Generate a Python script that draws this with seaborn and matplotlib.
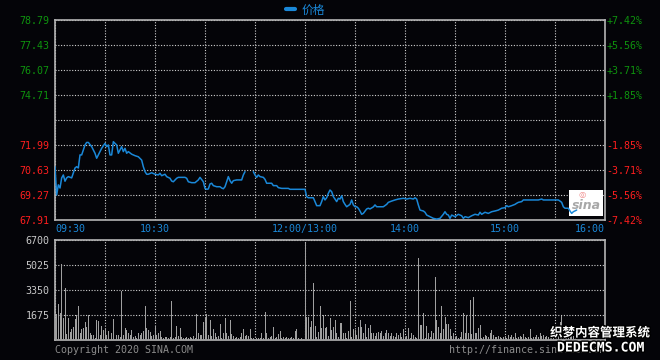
import matplotlib
matplotlib.use("Agg")
import matplotlib.pyplot as plt
import matplotlib.patheffects as pe
from matplotlib.lines import Line2D
from matplotlib.patches import Rectangle
from matplotlib.transforms import ScaledTranslation
import numpy as np
import pandas as pd
import seaborn as sns

# ---- data ----
prev_close = 73.35
price_ticks = [67.91, 69.27, 70.63, 71.99, 73.35, 74.71, 76.07, 77.43, 78.79]
pct_labels = ["-7.42%", "-5.56%", "-3.71%", "-1.85%", "",
              "+1.85%", "+3.71%", "+5.56%", "+7.42%"]
vol_ticks = [1675, 3350, 5025, 6700]
time_ticks = [0, 60, 150, 210, 270, 330]
time_labels = ["09:30", "10:30", "12:00/13:00", "14:00", "15:00", "16:00"]

# trading minutes since 09:30 (lunch removed), None marks a gap in the line
minutes = [0, 1, 2, 3, 4, 5, 6, 7, 8, 10, 11, 12, 13, 14, 15, 16, 17, 18, 19, 20,
           22, 24, 25, 26, 28, 30, 31, 32, 33, 34, 35, 37, 38, 39, 40, 41, 42, 43, 44, 46,
           48, 50, 52, 53, 54, 55, 56, 58, 60, 62, 63, 64, 66, 67, 69, 70, 71, 73, 74, 78,
           79, 80, 82, 84, 86, 87, 89, 90, 91, 92, 93, 94, 95, 97, 99, 100, 101, 102, 103, 104,
           105, 106, 107, 109, 112, 113, 114, 115, 119, 120, 121, 122, 123, 125, 126, 127, 130, 131, 133, 134,
           136, 140, 141, 150, 151, 152, 155, 156, 157, 159, 160, 161, 162, 163, 164, 165, 166, 167, 168, 169,
           170, 171, 172, 173, 174, 175, 177, 178, 179, 180, 181, 182, 183, 184, 185, 187, 188, 189, 191, 192,
           193, 195, 197, 199, 200, 202, 204, 206, 209, 211, 213, 215, 216, 217, 218, 219, 221, 222, 223, 225,
           227, 229, 231, 233, 234, 235, 236, 237, 238, 240, 242, 244, 245, 246, 248, 250, 252, 254, 255, 256,
           258, 260, 262, 264, 266, 268, 270, 271, 272, 274, 276, 277, 278, 280, 281, 290, 292, 293, 302, 303,
           304, 305, 306, 308, 309, 310, 311, 313]
prices = [70.81, 69.27, 69.82, 69.65, 70.20, 70.36, 70.02, 70.20, 70.27, 70.20, 70.47, 70.74, 70.81, 70.74, 71.45, 71.45, 71.72, 71.99, 72.13, 72.13,
          71.90, 71.54, 71.27, 71.45, 71.81, 72.08, 71.90, 71.99, 71.45, 71.45, 72.17, 71.99, 71.54, 71.72, 71.90, 71.63, 71.81, 71.54, 71.63, 71.49,
          71.41, 71.35, 71.17, 70.81, 70.54, 70.40, 70.40, 70.48, 70.40, 70.36, 70.45, 70.32, 70.40, 70.27, 70.18, 70.03, 69.99, 70.18, 70.23, 70.23,
          70.18, 69.99, 69.94, 69.94, 70.09, 70.23, 69.99, 69.63, 69.58, 69.60, 69.87, 69.91, 69.78, 69.72, 69.72, 69.65, 69.61, 69.72, 69.99, 70.27,
          70.05, 69.91, 70.05, 70.09, 70.09, 70.36, 70.54, None, 70.54, 70.36, 70.23, 70.36, 70.27, 70.23, 70.12, 69.91, 69.91, 69.78, 69.78, 69.67,
          69.63, 69.63, 69.58, 69.58, 69.18, 69.12, 69.12, 68.91, 68.69, 68.69, 68.91, 69.18, 69.00, 69.12, 69.36, 69.54, 69.45, 69.18, 69.05, 68.91,
          69.09, 69.05, 69.23, 68.91, 68.76, 68.63, 68.76, 69.00, 68.73, 68.63, 68.63, 68.55, 68.40, 68.22, 68.27, 68.51, 68.55, 68.51, 68.62, 68.73,
          68.63, 68.63, 68.63, 68.76, 68.87, 68.94, 69.00, 69.05, 69.09, 69.05, 69.09, 69.05, 69.12, 69.05, 68.73, 68.45, 68.40, 68.33, 68.18, 68.09,
          68.00, 67.96, 68.00, 68.22, 68.36, 68.22, 68.18, 68.00, 68.18, 68.09, 68.22, 68.14, 68.00, 68.09, 68.04, 68.14, 68.22, 68.18, 68.33, 68.22,
          68.33, 68.27, 68.36, 68.40, 68.45, 68.55, 68.58, 68.69, 68.63, 68.69, 68.76, 68.82, 68.87, 68.91, 69.00, 69.00, 69.05, 69.00, 69.00, 68.94,
          68.87, 68.63, 68.55, 68.55, 68.40, 68.27, 68.36, 68.45]

# volume per minute, minute 0 .. 313
volume = [1400, 1720, 2410, 1830, 5080, 1450, 3460, 400, 1450, 560,
          710, 850, 1380, 1670, 2270, 490, 710, 780, 1180, 850,
          1670, 450, 330, 330, 110, 1340, 1270, 330, 940, 670,
          740, 330, 600, 110, 450, 1400, 780, 330, 330, 180,
          3300, 330, 780, 670, 490, 330, 670, 180, 270, 110,
          450, 330, 450, 600, 2270, 780, 670, 560, 290, 330,
          940, 330, 450, 600, 180, 110, 180, 180, 110, 180,
          2610, 110, 180, 940, 270, 780, 180, 110, 110, 180,
          110, 180, 110, 270, 110, 1720, 450, 330, 330, 1230,
          1520, 1740, 330, 1340, 270, 710, 450, 180, 270, 1070,
          110, 450, 1450, 490, 270, 1340, 400, 270, 110, 180,
          110, 180, 490, 710, 270, 330, 270, 740, 110, 110,
          45, 110, 110, 110, 450, 110, 1850, 450, 110, 180,
          270, 850, 110, 180, 400, 600, 110, 180, 110, 180,
          110, 110, 180, 110, 600, 710, 110, 45, 110, 45,
          6500, 1560, 1520, 850, 1270, 3830, 940, 180, 560, 2270,
          780, 1670, 780, 850, 270, 1450, 670, 850, 1340, 450,
          180, 1110, 1110, 450, 450, 110, 620, 2610, 180, 710,
          670, 330, 850, 1340, 850, 450, 1070, 180, 780, 1000,
          450, 490, 270, 490, 560, 450, 600, 270, 450, 670,
          450, 270, 450, 270, 180, 490, 330, 450, 180, 710,
          110, 270, 780, 110, 450, 330, 180, 110, 5490, 1000,
          1000, 1830, 110, 940, 450, 220, 620, 450, 4240, 1340,
          890, 450, 2270, 710, 1520, 1070, 1070, 710, 270, 490,
          110, 270, 110, 220, 560, 1830, 490, 1670, 450, 2680,
          400, 2850, 450, 450, 780, 1000, 110, 180, 330, 270,
          180, 450, 670, 330, 180, 180, 270, 180, 110, 180,
          270, 110, 330, 180, 330, 180, 490, 110, 180, 270,
          180, 400, 180, 110, 180, 710, 110, 180, 180, 330,
          180, 450, 270, 330, 180, 270, 180, 330, 180, 270,
          560, 180, 270, 1230, 1600, 330, 560, 450, 330, 560,
          1000, 270, 450, 330]

# ---- style ----
BG = "#040408"
BLUE = "#1a88d8"
GREEN = "#0e930e"
RED = "#ff1e1e"
GRID = "#d0d0d0"
FRAME = "#b4b4b4"
MONO = "DejaVu Sans Mono"
CJK = ["Noto Sans CJK SC", "DejaVu Sans"]
FS = 7.2

sns.set_theme(style="dark", rc={"axes.facecolor": BG, "figure.facecolor": BG})
plt.rcParams["font.family"] = [MONO]

fig = plt.figure(figsize=(6.6, 3.6), dpi=100)
ax = fig.add_axes([55 / 660, 1 - 220 / 360, 550 / 660, 200 / 360])
axv = fig.add_axes([55 / 660, 1 - 340 / 360, 550 / 660, 100 / 360])

df = pd.DataFrame({"minute": minutes, "price": prices})
df["seg"] = df["price"].isna().cumsum()
df = df.dropna()
sns.lineplot(data=df, x="minute", y="price", units="seg", estimator=None,
             color=BLUE, lw=1.1, ax=ax, zorder=3)

vdf = pd.DataFrame({"minute": np.arange(len(volume)), "volume": volume})
sns.barplot(data=vdf, x="minute", y="volume", native_scale=True, width=0.6,
            color="#a0a0a0", saturation=1, edgecolor="none", ax=axv, zorder=3)

grid_ticks = list(range(0, 331, 30))
up = ScaledTranslation(0, 3 / 100, fig.dpi_scale_trans)

for a in (ax, axv):
    a.set_xlim(0, 330)
    a.set_xticks(grid_ticks)
    a.set_xlabel("")
    a.set_ylabel("")
    a.grid(True, color=GRID, linestyle=(0, (1, 1.5)), lw=0.8)
    a.set_axisbelow(True)
    a.tick_params(length=0)
    for s in a.spines.values():
        s.set_color(FRAME)
        s.set_linewidth(1.2)
        s.set_visible(True)

# price axis
ax.set_ylim(price_ticks[0], price_ticks[-1])
ax.set_yticks(price_ticks)
ax.set_yticklabels(["" if p == prev_close else f"{p:.2f}" for p in price_ticks],
                   fontsize=FS, family=MONO)
for lab, p in zip(ax.get_yticklabels(), price_ticks):
    lab.set_color(GREEN if p > prev_close else RED)
    lab.set_transform(lab.get_transform() + up)
ax.tick_params(axis="y", pad=4)
ax.set_xticklabels([time_labels[time_ticks.index(t)] if t in time_ticks else "" for t in grid_ticks],
                   fontsize=FS, color=BLUE, family=MONO)
ax.tick_params(axis="x", pad=3)
xl = ax.get_xticklabels()
xl[0].set_ha("left")
xl[-1].set_ha("right")

ax2 = ax.twinx()
ax2.set_ylim(price_ticks[0], price_ticks[-1])
ax2.set_yticks(price_ticks)
ax2.set_yticklabels(pct_labels, fontsize=FS, family=MONO)
for lab, p in zip(ax2.get_yticklabels(), price_ticks):
    lab.set_color(GREEN if p > prev_close else RED)
    lab.set_transform(lab.get_transform() + up)
ax2.tick_params(length=0, pad=1)
ax2.grid(False)
for s in ax2.spines.values():
    s.set_visible(False)

# legend
leg = ax.legend(handles=[Line2D([0], [0], color=BLUE, lw=3)], labels=["价格"],
                loc="center", bbox_to_anchor=(0.455, 1.05), frameon=False,
                handlelength=0.8, handletextpad=0.5, prop={"family": CJK, "size": 8.5})
for t in leg.get_texts():
    t.set_color(BLUE)

# sina logo box
ax.add_patch(Rectangle((308.4, 68.13), 20.4, 1.41, facecolor="white", edgecolor="none", zorder=2))
ax.text(318.6, 68.7, "sina", color="#a8a8a8", fontsize=9, fontweight="bold",
        fontstyle="italic", family="DejaVu Sans", ha="center", va="center", zorder=2.5)
ax.text(316.5, 69.3, "◎", color="#f08a8a", fontsize=6, family="DejaVu Sans",
        ha="center", va="center", zorder=2.5)

# volume axis
axv.set_ylim(0, 6700)
axv.set_yticks(vol_ticks)
axv.set_yticklabels([str(v) for v in vol_ticks], fontsize=FS, color="#c8c8c8", family=MONO)
for lab in axv.get_yticklabels():
    lab.set_transform(lab.get_transform() + up)
axv.tick_params(axis="y", pad=4)
axv.set_xticklabels([])

# footer texts
fig.text(55 / 660, 1 - 350 / 360, "Copyright 2020 SINA.COM", color="#8c8c8c",
         fontsize=FS, family=MONO, va="center", ha="left")
fig.text(605 / 660, 1 - 350 / 360, "http://finance.sina.com.cn", color="#8c8c8c",
         fontsize=FS, family=MONO, va="center", ha="right")

# watermark over the lower right corner
stroke = [pe.withStroke(linewidth=2, foreground="black")]
fig.text(600 / 660, 1 - 333 / 360, "织梦内容管理系统", color="white", fontsize=9,
         fontweight="bold", family=CJK, ha="center", va="center", path_effects=stroke)
fig.text(601 / 660, 1 - 348 / 360, "DEDECMS.COM", color="white", fontsize=9.5,
         fontweight="bold", family=MONO, ha="center", va="center", path_effects=stroke)

fig.savefig("out.png", dpi=100, facecolor=BG)
